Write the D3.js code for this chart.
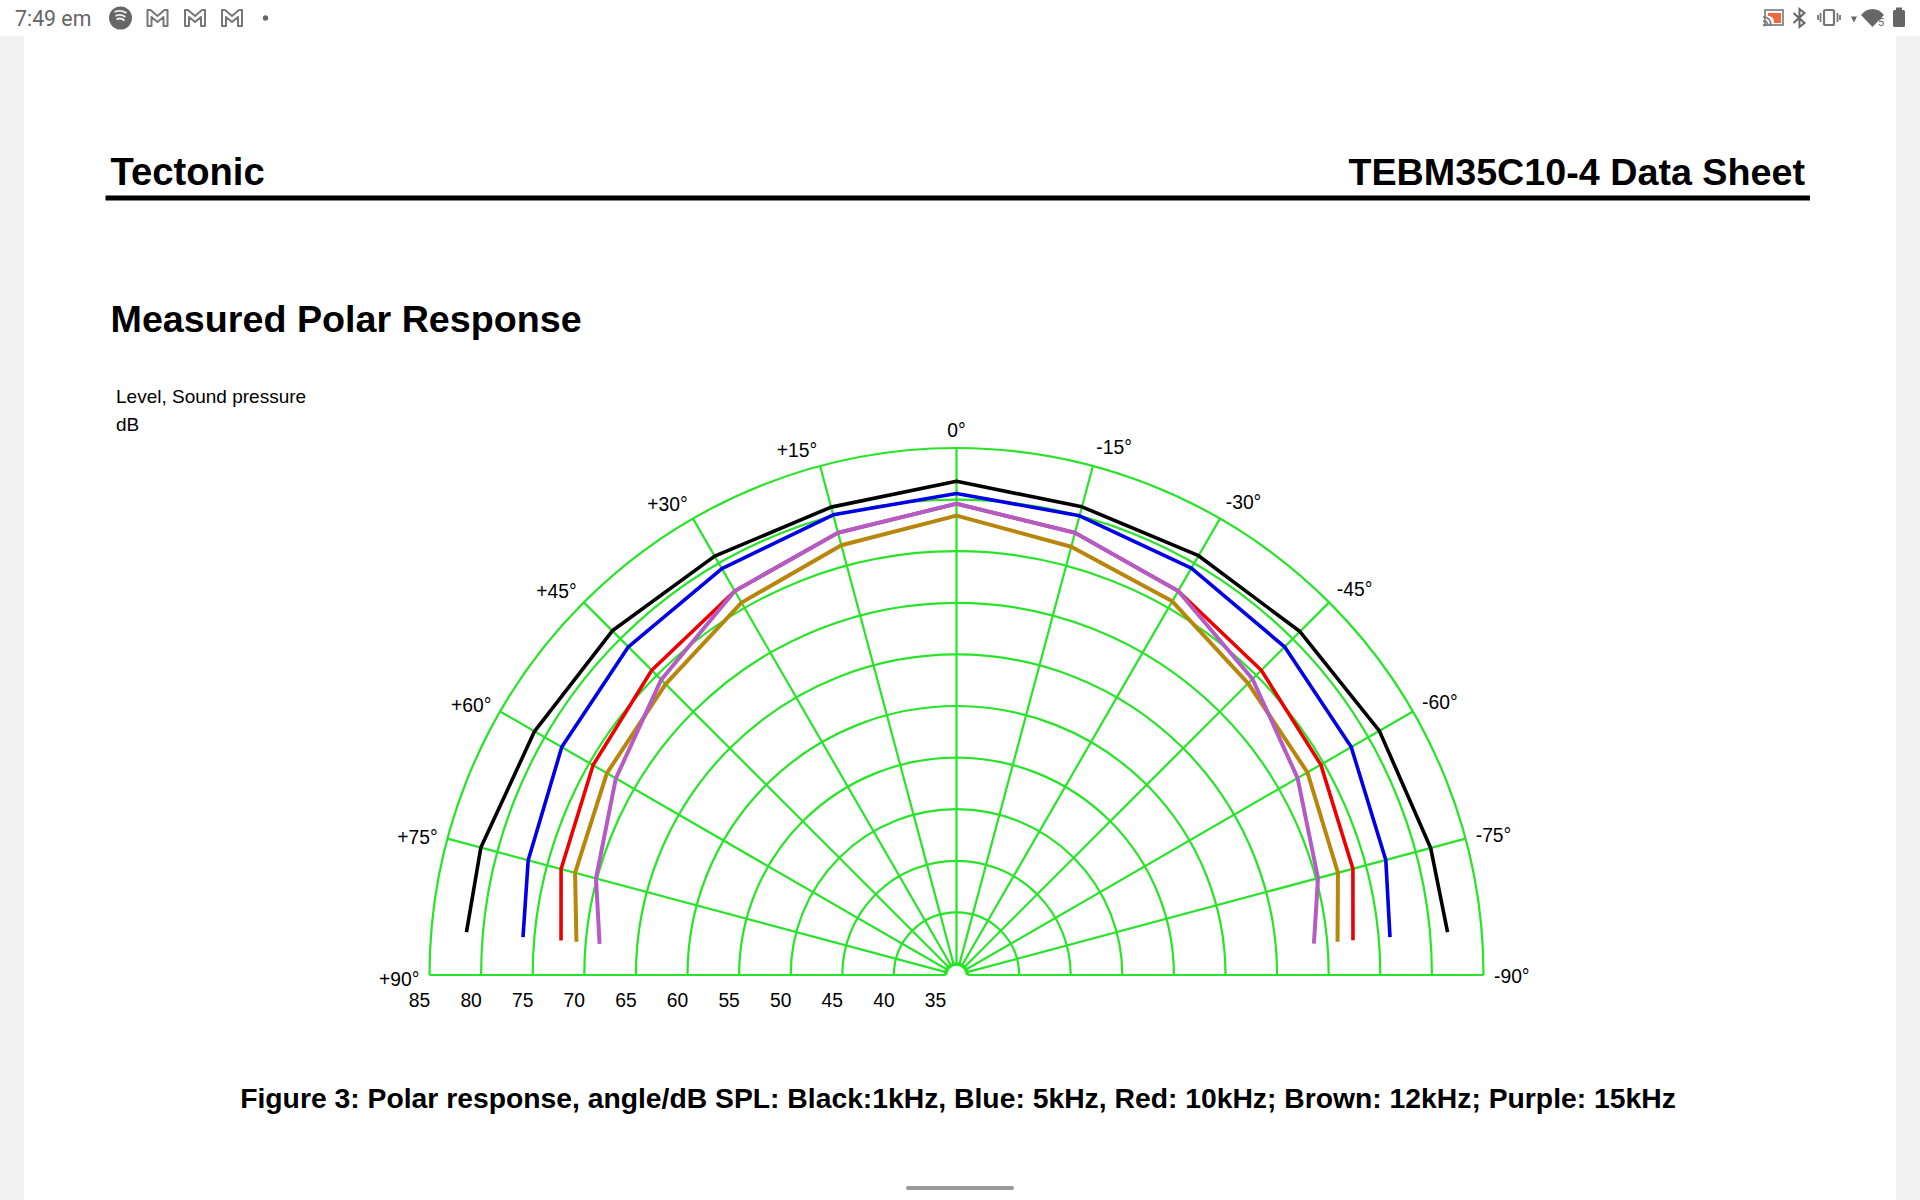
<!DOCTYPE html>
<html>
<head>
<meta charset="utf-8">
<script src="https://cdn.jsdelivr.net/npm/d3@7"></script>
<style>
  body { margin: 0; background: #fff; }
  svg { display: block; }
  text { font-family: "Liberation Sans", Arial, sans-serif; fill: #000; }
</style>
</head>
<body>
<svg id="page" width="1920" height="1200"></svg>
<script>
// angles of the measured points, + is left of the axis
const angles = [85, 75, 60, 45, 30, 15, 0, -15, -30, -45, -60, -75, -85]
const spokeAngles = [90, 75, 60, 45, 30, 15, 0, -15, -30, -45, -60, -75, -90]
const spokeLabels = ['+90°', '+75°', '+60°', '+45°', '+30°', '+15°', '0°', '-15°', '-30°', '-45°', '-60°', '-75°', '-90°']
const ringLevels = [85, 80, 75, 70, 65, 60, 55, 50, 45, 40, 35]

// dB SPL
const black1k = [81.6, 81.65, 81.15, 81.1, 80.8, 80.87, 81.77, 80.9, 80.85, 81.0, 81.25, 81.5, 81.7]
const blue5k = [76.1, 76.9, 78.1, 78.9, 79.4, 80.1, 80.6, 80.0, 79.45, 78.9, 78.1, 77.0, 76.1]
const red10k = [72.4, 73.6, 74.6, 75.7, 76.9, 78.3, 79.6, 78.3, 76.9, 75.7, 74.7, 73.7, 72.5]
const brown12k = [70.9, 72.2, 73.05, 73.8, 75.6, 77.05, 78.45, 76.9, 75.75, 73.9, 73.2, 72.2, 71.0]
const purple15k = [68.65, 70.1, 72.05, 74.4, 76.9, 78.3, 79.6, 78.3, 76.9, 74.5, 72.1, 70.2, 68.7]

const seriesValues = [black1k, blue5k, red10k, brown12k, purple15k]
const seriesColors = ['#000000', '#0000e6', '#ee0000', '#b8860b', '#b45cc4']

const svg = d3.select('#page')
const cx = 956.5
const cy = 975
const green = '#28e428'

// page frame
svg.append('rect').attr('width', 1920).attr('height', 1200).style('fill', '#fff')
svg.append('rect').attr('x', 0).attr('y', 36).attr('width', 24).attr('height', 1164).style('fill', '#f1f1f1')
svg.append('rect').attr('x', 1896).attr('y', 36).attr('width', 24).attr('height', 1164).style('fill', '#f1f1f1')
svg.append('rect').attr('x', 906).attr('y', 1186).attr('width', 108).attr('height', 4).attr('rx', 2).style('fill', '#9a9a9a')

// status bar
const bar = svg.append('g').attr('class', 'status')
bar.append('text').attr('x', 15).attr('y', 25.5).text('7:49 em')
  .style('font-family', 'Roboto').style('font-size', '21.3px').style('fill', '#666')
bar.append('circle').attr('cx', 120.5).attr('cy', 18).attr('r', 11.5).style('fill', '#666')
;[[-6, 6, -2, 1.2], [-5, 5, 2, 1.1], [-4, 4, 5.5, 1]].forEach(function (a) {
  bar.append('path')
    .attr('d', `M${120.5 + a[0]} ${14 + a[2]}q${a[1]} -2.5 ${-a[0] + a[1]} 1`)
    .style('fill', 'none').style('stroke', '#eee').style('stroke-width', 1.8)
})
;[157.5, 195, 232].forEach(function (x) {
  bar.append('path')
    .attr('d', `M${x - 10} 10H${x - 7}L${x} 16L${x + 7} 10H${x + 10}V26H${x + 6}V17L${x} 22L${x - 6} 17V26H${x - 10}Z`)
    .style('fill', '#fff').style('stroke', '#777').style('stroke-width', 2).style('stroke-linejoin', 'round')
})
bar.append('circle').attr('cx', 265.5).attr('cy', 18).attr('r', 2.7).style('fill', '#666')
bar.append('rect').attr('x', 1765).attr('y', 10).attr('width', 18).attr('height', 15).style('fill', 'none').style('stroke', '#777').style('stroke-width', 1.6)
bar.append('path').attr('d', 'M1768 13h13v10h-7c0-5-2-7-6-7z').style('fill', '#f2683a')
bar.append('path').attr('d', 'M1763 17c5 0 8 3 8 9M1763 21c3 0 5 2 5 5').style('fill', 'none').style('stroke', '#777').style('stroke-width', 1.6)
bar.append('circle').attr('cx', 1764.5).attr('cy', 25).attr('r', 1.5).style('fill', '#777')
bar.append('path').attr('d', 'M1793.5 13l11 10-5 4V9l5 4-11 10').style('fill', 'none').style('stroke', '#666').style('stroke-width', 2)
bar.append('rect').attr('x', 1824).attr('y', 10).attr('width', 10).attr('height', 15).attr('rx', 1.5).style('fill', 'none').style('stroke', '#777').style('stroke-width', 2.2)
bar.append('path').attr('d', 'M1820.5 13v9M1837.5 13v9M1818 15v5M1840 15v5').style('fill', 'none').style('stroke', '#777').style('stroke-width', 1.8)
bar.append('path').attr('d', 'M1851 16.5h6l-3 6z').style('fill', '#666')
bar.append('path').attr('d', 'M1861 15c6-8 17-8 23 0l-11.5 12z').style('fill', '#666')
bar.append('text').attr('x', 1878).attr('y', 26).text('5').style('font-family', 'Roboto').style('font-size', '11px').style('fill', '#666')
bar.append('rect').attr('x', 1893).attr('y', 10).attr('width', 12).attr('height', 17).attr('rx', 1.5).style('fill', '#666')
bar.append('rect').attr('x', 1896).attr('y', 7.5).attr('width', 6).attr('height', 3).style('fill', '#666')

// headings
const pageText = svg.append('g')
pageText.append('text').attr('x', 110.5).attr('y', 185).text('Tectonic')
  .style('font-weight', 'bold').style('font-size', '38.2px')
pageText.append('text').attr('x', 1805).attr('y', 185).text('TEBM35C10-4 Data Sheet')
  .style('font-weight', 'bold').style('font-size', '37.7px').style('text-anchor', 'end')
svg.append('rect').attr('x', 105.5).attr('y', 195.5).attr('width', 1704.5).attr('height', 5).style('fill', '#000')
pageText.append('text').attr('x', 110.5).attr('y', 331.5).text('Measured Polar Response')
  .style('font-weight', 'bold').style('font-size', '37.7px')
pageText.append('text').attr('x', 116).attr('y', 403).text('Level, Sound pressure').style('font-size', '19px')
pageText.append('text').attr('x', 116).attr('y', 431).text('dB').style('font-size', '19px')
pageText.append('text').attr('x', 958).attr('y', 1108).text('Figure 3: Polar response, angle/dB SPL: Black:1kHz, Blue: 5kHz, Red: 10kHz; Brown: 12kHz; Purple: 15kHz')
  .style('font-weight', 'bold').style('font-size', '28.3px').style('text-anchor', 'middle')

// scales
const rScale = d3.scaleLinear().domain([35, 85]).range([11, 527])
const aScale = d3.scaleLinear().domain([90, -90]).range([-Math.PI / 2, Math.PI / 2])

const vis = svg.append('g').attr('transform', `translate(${cx},${cy})`)

// rings
const ring = d3.arc().startAngle(-Math.PI / 2).endAngle(Math.PI / 2).innerRadius(d => rScale(d)).outerRadius(d => rScale(d))
vis.selectAll('.ring').data(ringLevels).enter().append('path')
  .attr('class', 'ring')
  .attr('d', d => ring(d))
  .style('fill', 'none')
  .style('stroke', green)
  .style('stroke-width', d => d === 35 ? 3.5 : 2.2)

// spokes, the two 90 degree ones make the baseline
vis.selectAll('.spoke').data(spokeAngles).enter().append('path')
  .attr('class', 'spoke')
  .attr('d', d => d3.lineRadial()([[aScale(d), rScale(35)], [aScale(d), rScale(85)]]))
  .style('fill', 'none')
  .style('stroke', green)
  .style('stroke-width', 2.2)

// curves
const curve = d3.lineRadial()
  .angle((d, i) => aScale(angles[i]))
  .radius(d => rScale(d))
vis.selectAll('.curve').data(seriesValues).enter().append('path')
  .attr('class', 'curve')
  .attr('d', d => curve(d))
  .style('fill', 'none')
  .style('stroke', (d, i) => seriesColors[i])
  .style('stroke-width', (d, i) => i === 4 || i === 3 ? 4 : 3.6)
  .style('stroke-linejoin', 'round')

// angle labels sit just off the spoke tips, the two sides are not quite level
const labelGap = d => d > 0 ? 0.5 + 9.5 * Math.abs(Math.sin(aScale(d))) : 1 + 9.5 * Math.abs(Math.sin(aScale(d)))
vis.selectAll('.angle-label').data(spokeAngles).enter().append('text')
  .attr('class', 'angle-label')
  .attr('x', d => {
    const tip = rScale(85) * Math.sin(aScale(d))
    if (d === 0) return tip
    return d > 0 ? tip - labelGap(d) : tip + labelGap(d)
  })
  .attr('y', d => -rScale(85) * Math.cos(aScale(d)) - 20.8 * Math.cos(aScale(d)) + (d > 0 ? 10.7 : d < 0 ? 8.3 : 9.5))
  .text((d, i) => spokeLabels[i])
  .style('font-size', '19.3px')
  .style('text-anchor', d => d === 0 ? 'middle' : d > 0 ? 'end' : 'start')

// level labels
vis.selectAll('.level-label').data(ringLevels).enter().append('text')
  .attr('class', 'level-label')
  .attr('x', d => -rScale(d) - 10)
  .attr('y', 32)
  .text(d => d)
  .style('font-size', '19.3px')
  .style('text-anchor', 'middle')
</script>
</body>
</html>
